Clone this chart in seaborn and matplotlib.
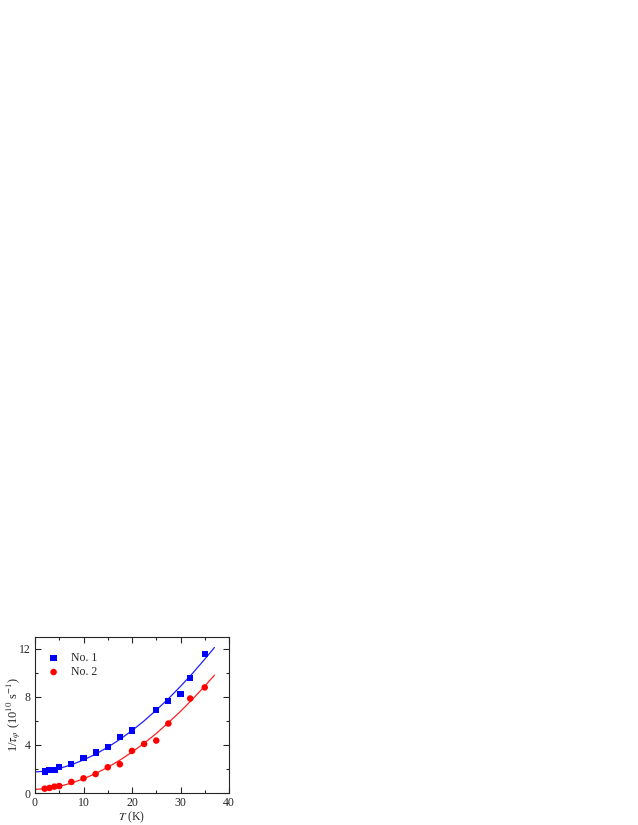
import numpy as np
import pandas as pd
import matplotlib
matplotlib.use("Agg")
import matplotlib.pyplot as plt
import seaborn as sns
from matplotlib.ticker import MultipleLocator

# measured points
t1 = [2, 3, 4, 5, 7.5, 10, 12.5, 15, 17.5, 20, 25, 27.5, 30, 32, 35]
rate1 = [1.78, 1.94, 1.89, 2.17, 2.39, 2.92, 3.36, 3.80, 4.64, 5.19, 6.89, 7.67, 8.25, 9.58, 11.58]

t2 = [2, 3, 4, 5, 7.5, 10, 12.5, 15, 17.5, 20, 22.5, 25, 27.5, 32, 35]
rate2 = [0.36, 0.42, 0.53, 0.58, 0.92, 1.22, 1.58, 2.14, 2.39, 3.50, 4.08, 4.36, 5.78, 7.86, 8.78]

# fitted curves
t_fit = [0, 2.5, 5, 7.5, 10, 12.5, 15, 17.5, 20, 22.5, 25, 27.5, 30, 32.5, 35, 37]
fit1 = [1.75, 1.83, 2.04, 2.35, 2.75, 3.23, 3.81, 4.46, 5.19, 6.00, 6.89, 7.84, 8.87, 9.96, 11.13, 12.10]
fit2 = [0.30, 0.37, 0.55, 0.82, 1.18, 1.62, 2.14, 2.73, 3.40, 4.14, 4.95, 5.85, 6.79, 7.81, 8.89, 9.80]

sns.set_style("ticks")
plt.rcParams['font.family'] = ['Liberation Serif', 'DejaVu Serif']
plt.rcParams['mathtext.fontset'] = 'stix'

fig = plt.figure(figsize=(6.38, 8.25), dpi=100)
ax = fig.add_axes([35/638, 32/825, 194/638, 156.3/825])

pts1 = pd.DataFrame({"T": t1, "rate": rate1})
pts2 = pd.DataFrame({"T": t2, "rate": rate2})
fits = pd.DataFrame({"T": t_fit, "fit1": fit1, "fit2": fit2})

sns.lineplot(data=fits, x="T", y="fit1", ax=ax, color="#1f1fff", lw=0.9, sort=False)
sns.lineplot(data=fits, x="T", y="fit2", ax=ax, color="#ff2020", lw=0.9, sort=False)
sns.scatterplot(data=pts1, x="T", y="rate", ax=ax, marker="s", s=20, color="#0000ff",
                edgecolor="none", label="No. 1", zorder=3)
sns.scatterplot(data=pts2, x="T", y="rate", ax=ax, marker="o", s=22, color="#ff0000",
                edgecolor="none", label="No. 2", zorder=3)

ax.set_xlim(0, 40)
ax.set_ylim(0, 13)
ax.xaxis.set_major_locator(MultipleLocator(10))
ax.xaxis.set_minor_locator(MultipleLocator(5))
ax.yaxis.set_major_locator(MultipleLocator(4))
ax.yaxis.set_minor_locator(MultipleLocator(2))
ax.tick_params(which="both", direction="in", top=True, right=True, labelsize=8.5, width=0.8, pad=3)
ax.tick_params(which="major", length=4)
ax.tick_params(which="minor", length=2.5)
for sp in ax.spines.values():
    sp.set_linewidth(0.8)

ax.set_xlabel(r"$T$ (K)", fontsize=8.5, labelpad=0)
ax.set_ylabel(r"1/$\tau_\varphi$ (10$^{10}$ s$^{-1}$)", fontsize=9)
ax.yaxis.set_label_coords(-0.06, 0.5)

ax.legend(loc="upper left", bbox_to_anchor=(0.035, 0.93), frameon=False, fontsize=8.5,
          handletextpad=0.9, borderaxespad=0, labelspacing=0.15, handlelength=1.2)

fig.savefig("out.png", dpi=100)
